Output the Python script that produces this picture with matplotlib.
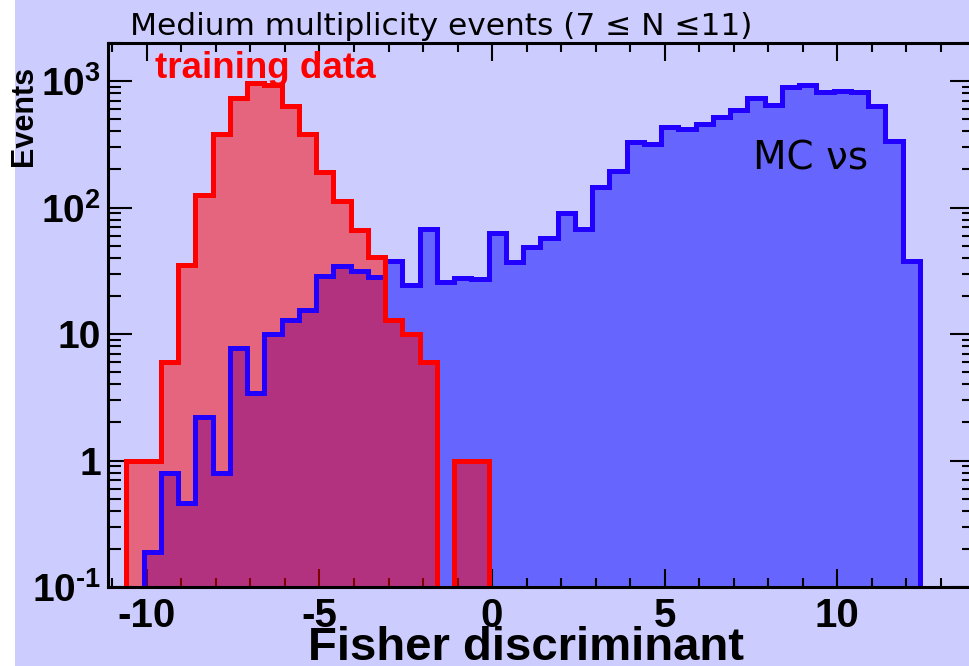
import numpy as np
import matplotlib
matplotlib.use('Agg')
import matplotlib.pyplot as plt
from matplotlib.ticker import LogLocator, MultipleLocator, FixedLocator, NullFormatter
from matplotlib.patches import Rectangle

# histogram binning: 46 bins of width 0.5 starting at -10.6
bin_lo = -10.6
bin_w = 0.5

# training data (counts per bin)
data_counts = [1, 1, 6, 35, 126, 380, 740, 965, 930, 630,
               380, 191, 112, 66, 41, 13, 10, 6, 0, 1,
               1, 0, 0, 0, 0, 0, 0, 0, 0, 0,
               0, 0, 0, 0, 0, 0, 0, 0, 0, 0,
               0, 0, 0, 0, 0, 0]

# MC neutrino sample (weighted)
mc_counts = [0, 0.19, 0.8, 0.46, 2.2, 0.8, 7.8, 3.4, 10, 13,
             15.6, 28.7, 34.4, 31.4, 28, 37.8, 24.6, 68, 25.7, 27.6,
             27, 62.5, 36.8, 49, 57.5, 90, 67.5, 145, 195, 331,
             316, 435, 416, 456, 519, 589, 730, 646, 891, 930,
             814, 838, 814, 637, 337, 37.8]

x_ticks = [-10, -5, 0, 5, 10]
y_ticks = [0.1, 1, 10, 100, 1000]
y_ticklabels = [r'$\mathbf{10^{\text{-}1}}$', '1', '10',
                r'$\mathbf{10^{2}}$', r'$\mathbf{10^{3}}$']

plt.rcParams['mathtext.fontset'] = 'custom'
plt.rcParams['mathtext.bf'] = 'Liberation Sans:bold'
plt.rcParams['mathtext.rm'] = 'Liberation Sans:bold'

bg = '#ccccff'
W, H = 970, 666

edges = bin_lo + bin_w * np.arange(len(data_counts) + 1)
floor = 1e-3  # empty bins sit below the visible range on the log axis
data_v = np.maximum(np.array(data_counts, float), floor)
mc_v = np.maximum(np.array(mc_counts, float), floor)

fig = plt.figure(figsize=(W / 100, H / 100), dpi=100, facecolor=bg)
fig.patches.append(Rectangle((0, 0), 15 / W, 1, transform=fig.transFigure,
                             facecolor='white', edgecolor='none', zorder=0))

ax = fig.add_axes([108 / W, 79 / H, (974 - 108) / W, (587 - 43) / H])
ax.set_facecolor(bg)
ax.set_yscale('log')

# fills first, outlines on top
ax.stairs(mc_v, edges, baseline=floor, fill=True, color='#6666ff', zorder=1)
ax.stairs(data_v, edges, baseline=floor, fill=True, color=(1, 0, 0, 0.5), zorder=2)
ax.stairs(mc_v, edges, baseline=floor, color='#2200ff', lw=3.6, zorder=3)
ax.stairs(data_v, edges, baseline=floor, color='#ff0000', lw=3.6, zorder=4)

ax.set_xlim(-11.13, 13.97)
ax.set_ylim(0.1, 2000)

ax.xaxis.set_major_locator(FixedLocator(x_ticks))
ax.xaxis.set_minor_locator(MultipleLocator(1))
ax.yaxis.set_major_locator(FixedLocator(y_ticks))
ax.yaxis.set_minor_locator(LogLocator(base=10, subs=np.arange(2, 10)))
ax.yaxis.set_minor_formatter(NullFormatter())
ax.set_yticklabels(y_ticklabels)
ax.set_xticklabels([str(t) for t in x_ticks])

for lab in ax.get_xticklabels() + ax.get_yticklabels():
    lab.set_fontfamily('Liberation Sans')
    lab.set_fontweight('bold')

ax.tick_params(axis='both', which='both', direction='in', top=True, right=True,
               color='black', width=1.5)
ax.tick_params(axis='x', which='major', length=13, labelsize=29, pad=7)
ax.tick_params(axis='x', which='minor', length=6.5)
ax.tick_params(axis='y', which='major', length=17, labelsize=28, pad=5)
ax.tick_params(axis='y', which='minor', length=9)
for s in ax.spines.values():
    s.set_linewidth(2.2)
    s.set_zorder(5)

fig.text(130 / W, 1 - 35 / H, 'Medium multiplicity events (7 \u2264 N \u226411)',
         fontsize=22.5, family='DejaVu Sans', va='baseline', ha='left')
fig.text(155 / W, 1 - 78 / H, 'training data', color='red', fontsize=26.5,
         family='Liberation Sans', fontweight='bold', va='baseline', ha='left')
fig.text(753 / W, 1 - 169 / H, 'MC \u03bds', fontsize=28, family='DejaVu Sans',
         va='baseline', ha='left')
fig.text(24 / W, 1 - 116 / H, 'Events', rotation=90, fontsize=22,
         family='Liberation Sans', fontweight='bold', va='center', ha='center')
fig.text(526 / W, 1 - 660 / H, 'Fisher discriminant', fontsize=34,
         family='Liberation Sans', fontweight='bold', va='baseline', ha='center')

fig.savefig('out.png', dpi=100, facecolor=bg)
